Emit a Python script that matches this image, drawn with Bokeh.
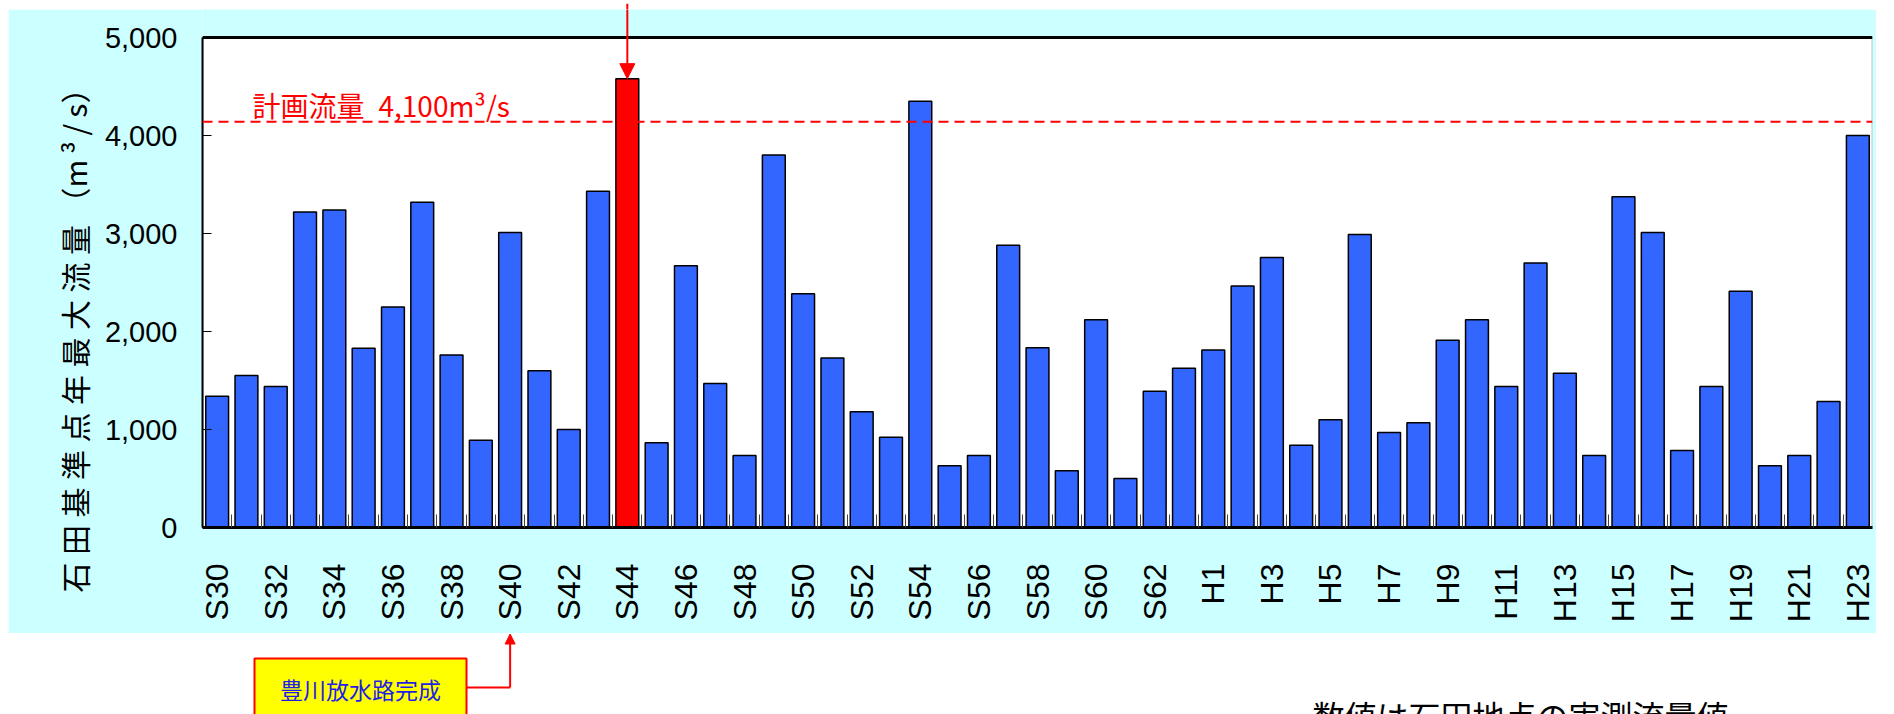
import math
from bokeh.plotting import figure
from bokeh.layouts import column, row
from bokeh.models import (Range1d, FixedTicker, BoxAnnotation, Span, Label, Arrow,
                          NormalHead, ColumnDataSource, Spacer, Title)
from bokeh.embed import file_html
from bokeh.resources import INLINE

# ---------------- data ----------------
years = ["S30", "S31", "S32", "S33", "S34", "S35", "S36", "S37", "S38", "S39",
         "S40", "S41", "S42", "S43", "S44", "S45", "S46", "S47", "S48", "S49",
         "S50", "S51", "S52", "S53", "S54", "S55", "S56", "S57", "S58", "S59",
         "S60", "S61", "S62", "S63",
         "H1", "H2", "H3", "H4", "H5", "H6", "H7", "H8", "H9", "H10",
         "H11", "H12", "H13", "H14", "H15", "H16", "H17", "H18", "H19", "H20",
         "H21", "H22", "H23"]
flow = [1340, 1550, 1440, 3220, 3240, 1830, 2250, 3320, 1760, 890,
        3010, 1600, 1000, 3430, 4580, 865, 2670, 1470, 735, 3800,
        2385, 1730, 1180, 920, 4350, 630, 735, 2880, 1835, 580,
        2120, 500, 1390, 1625,
        1810, 2465, 2755, 840, 1100, 2990, 970, 1070, 1910, 2120,
        1440, 2700, 1575, 735, 3375, 3010, 785, 1440, 2410, 630,
        735, 1285, 4000]
highlight_year = "S44"
completion_year = "S40"
plan_line_level = 4140
plan_text = "計画流量\u20024,100m³/s"
y_ticks = [0, 1000, 2000, 3000, 4000, 5000]
y_tick_labels = ["0", "1,000", "2,000", "3,000", "4,000", "5,000"]
y_max = 5000
y_title = "\u2005".join(list("石田基準点年最大流量")) + "\u2005（m\u2009³\u2009/\u2009s）"
note_text = "豊川放水路完成"
footer_text = "数値は石田地点の実測流量値"

n = len(years)
xs = list(range(n))
hi = years.index(highlight_year)
ci = years.index(completion_year)
colors = ["#FF0000" if y == highlight_year else "#3366FF" for y in years]

# ---------------- page layout (pixels) ----------------
PAGE_W, PAGE_H = 1894, 714
CY_L, CY_R, CY_T, CY_B = 8, 1876, 9, 633          # cyan panel
PL_L, PL_R, PL_T, PL_B = 202, 1872, 37, 527       # plot area
TITLE_BOTTOM = 592                                # lower end of the y title
CYAN = "#CCFFFF"

slot = (PL_R - PL_L) / n
def page_x(i):
    return PL_L + (i + 0.5) * slot

# y range extended so the frame reaches the top of the cyan panel
y_end = y_max * (PL_B - CY_T) / (PL_B - PL_T)

# ---------------- main chart ----------------
p = figure(width=CY_R - CY_L, height=CY_B - CY_T, output_backend="svg",
           toolbar_location=None, title=None,
           x_range=Range1d(-0.5, n - 0.5), y_range=Range1d(0, y_end),
           min_border_left=PL_L - CY_L, min_border_right=CY_R - PL_R,
           min_border_top=0, min_border_bottom=CY_B - PL_B,
           border_fill_color=CYAN, background_fill_color=CYAN,
           outline_line_color=None)
p.xgrid.visible = False
p.ygrid.visible = False

# white plotting area with frame
p.add_layout(BoxAnnotation(bottom=0, top=y_max, fill_color="white", fill_alpha=1.0,
                           line_color="#333333", line_width=2, level="underlay"))

src = ColumnDataSource(dict(x=xs, top=flow, color=colors))
p.vbar(x="x", top="top", width=0.78, source=src, fill_color="color",
       line_color="black", line_width=1.5)

xa = p.xaxis[0]
xa.ticker = FixedTicker(ticks=list(range(0, n, 2)),
                        minor_ticks=[i + 0.5 for i in range(n - 1)])
xa.major_label_overrides = {i: years[i] for i in range(0, n, 2)}
xa.major_label_orientation = math.pi / 2
xa.major_tick_in = 0
xa.major_tick_out = 0
xa.minor_tick_in = 13
xa.minor_tick_out = 0
xa.minor_tick_line_color = "#444444"
xa.minor_tick_line_width = 1
xa.axis_line_color = "black"
xa.axis_line_width = 3
xa.major_label_standoff = 36
xa.major_label_text_font = "Liberation Sans"
xa.major_label_text_font_size = "32px"
xa.major_label_text_color = "black"

ya = p.yaxis[0]
ya.ticker = FixedTicker(ticks=y_ticks)
ya.bounds = (0, y_max)
ya.major_label_overrides = dict(zip(y_ticks, y_tick_labels))
ya.major_tick_in = 9
ya.major_tick_out = 0
ya.minor_tick_in = 0
ya.minor_tick_out = 0
ya.major_tick_line_color = "black"
ya.axis_line_color = "black"
ya.axis_line_width = 2
ya.major_label_standoff = 25
ya.major_label_text_font = "Liberation Sans"
ya.major_label_text_font_size = "29px"
ya.major_label_text_color = "black"

# vertical y title in the left panel, starting below the frame like the original
p.add_layout(Title(text=y_title, align="left", offset=PL_B - TITLE_BOTTOM,
                   vertical_align="middle", standoff=10,
                   text_font="Noto Sans CJK JP", text_font_size="30px",
                   text_font_style="normal", text_color="black"), "left")

# top border of the plot
p.add_layout(Span(location=y_max, dimension="width", line_color="black", line_width=3))

# planned flow line and label
p.add_layout(Span(location=plan_line_level, dimension="width", line_color="red",
                  line_dash="10 6", line_width=2))
p.add_layout(Label(x=252 - CY_L, y=104 - CY_T, x_units="canvas", y_units="canvas",
                   text=plan_text, text_font="Noto Sans CJK JP", text_font_size="28px",
                   text_color="red", text_align="left", text_baseline="middle"))

# arrow to highlighted bar
p.add_layout(Arrow(end=NormalHead(size=15, fill_color="red", line_color="red"),
                   x_start=hi, y_start=y_end * 1.02, x_end=hi, y_end=flow[hi],
                   line_color="red", line_width=2))

# ---------------- top strip (arrow tail) ----------------
top = figure(width=PAGE_W, height=CY_T, output_backend="svg", toolbar_location=None,
             title=None, x_range=Range1d(0, PAGE_W), y_range=Range1d(0, 1),
             x_axis_type=None, y_axis_type=None, min_border=0,
             border_fill_color="white", background_fill_color="white",
             outline_line_color=None)
top.segment(x0=[page_x(hi)], y0=[0], x1=[page_x(hi)], y1=[1], line_color="red", line_width=2)

# ---------------- bottom strip (note + footer) ----------------
BH = PAGE_H - CY_B
bot = figure(width=PAGE_W, height=BH, output_backend="svg", toolbar_location=None,
             title=None, x_range=Range1d(0, PAGE_W), y_range=Range1d(BH, 0),
             x_axis_type=None, y_axis_type=None, min_border=0,
             border_fill_color="white", background_fill_color="white",
             outline_line_color=None)
bot.quad(left=[254], right=[466], top=[658 - CY_B], bottom=[BH + 20],
         fill_color="#FFFF00", line_color="red", line_width=2)
bot.text(x=[360], y=[688 - CY_B], text=[note_text], text_font={"value": "Noto Sans CJK JP"},
         text_font_size="23px", text_color="#1F1FE6", text_align="center",
         text_baseline="middle")
bot.segment(x0=[466], y0=[687 - CY_B], x1=[page_x(ci)], y1=[687 - CY_B],
            line_color="red", line_width=2)
bot.add_layout(Arrow(end=NormalHead(size=10, fill_color="red", line_color="red"),
                     x_start=page_x(ci), y_start=687 - CY_B, x_end=page_x(ci), y_end=0.5,
                     line_color="red", line_width=2))
bot.text(x=[1312], y=[691 - CY_B], text=[footer_text], text_font={"value": "Noto Sans CJK JP"},
         text_font_size="32px", text_color="black", text_align="left",
         text_baseline="top")

layout = column(top,
                row(Spacer(width=CY_L, height=CY_B - CY_T), p,
                    Spacer(width=PAGE_W - CY_R, height=CY_B - CY_T)),
                bot)

open("out.html", "w").write(file_html(layout, INLINE))
